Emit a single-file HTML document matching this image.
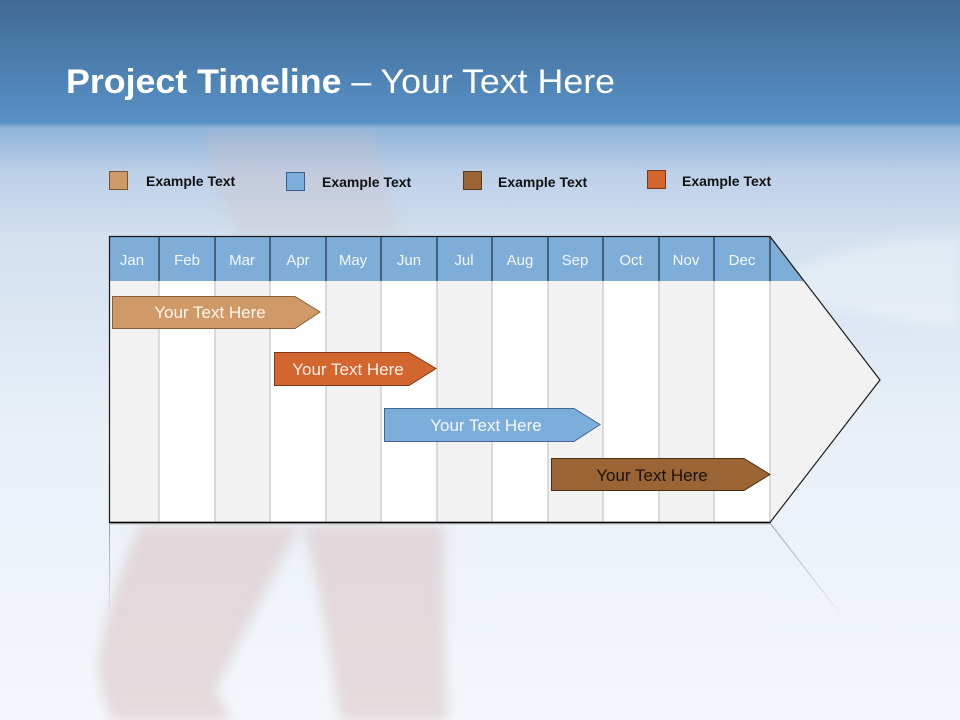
<!DOCTYPE html>
<html><head><meta charset="utf-8"><style>
html,body{margin:0;padding:0;width:960px;height:720px;overflow:hidden}
svg{display:block}
</style></head><body>
<svg width="960" height="720" viewBox="0 0 960 720" xmlns="http://www.w3.org/2000/svg" font-family="'Liberation Sans', sans-serif">
<defs>
<linearGradient id="bg" x1="0" y1="0" x2="0" y2="1">
<stop offset="0" stop-color="#3f6a93"/>
<stop offset="0.17" stop-color="#5891c6"/>
<stop offset="0.178" stop-color="#8fb5dc"/>
<stop offset="0.24" stop-color="#bcd0e8"/>
<stop offset="0.33" stop-color="#d3e0ef"/>
<stop offset="0.6" stop-color="#e9f0f8"/>
<stop offset="1" stop-color="#f4f7fb"/>
</linearGradient>
<linearGradient id="refl" x1="0" y1="0" x2="0" y2="1">
<stop offset="0" stop-color="#888" stop-opacity="0.8"/>
<stop offset="1" stop-color="#888" stop-opacity="0"/>
</linearGradient>
<filter id="blur"><feGaussianBlur stdDeviation="6"/></filter>
</defs>
<rect width="960" height="720" fill="url(#bg)"/>
<path d="M790 270 Q860 240 960 235 L960 330 Q880 320 800 300 Z" fill="#f3f6fa" opacity="0.45" filter="url(#blur)"/>
<g fill="#d6bcbc" opacity="0.5" filter="url(#blur)">
<path d="M205 132 L375 132 Q390 200 400 236 L240 236 Q215 190 205 132 Z" opacity="0.5"/>
<path d="M140 525 L300 525 Q260 600 215 690 L232 720 L112 720 Q96 680 100 655 Q108 600 140 525 Z"/>
<path d="M303 525 L445 525 Q442 620 448 720 L340 720 Q332 660 328 640 Q318 580 303 525 Z"/>
</g>
<text x="66" y="93" fill="#fff" font-size="34" textLength="549" lengthAdjust="spacingAndGlyphs"><tspan font-weight="bold">Project Timeline</tspan> – Your Text Here</text>
<g font-size="14" font-weight="bold" fill="#111">
<rect x="109.5" y="171.5" width="18" height="18" fill="#cf9a67" stroke="#7a5430"/>
<text x="146" y="186">Example Text</text>
<rect x="286.5" y="172.5" width="18" height="18" fill="#7caedb" stroke="#3a5f88"/>
<text x="322" y="187">Example Text</text>
<rect x="463.5" y="171.5" width="18" height="18" fill="#9a6434" stroke="#5a3a1c"/>
<text x="498" y="187">Example Text</text>
<rect x="647.5" y="170.5" width="18" height="18" fill="#d3652f" stroke="#7a3818"/>
<text x="682" y="186">Example Text</text>
</g>
<path d="M109.5 523 L109.5 620 M770 523 L845 620" stroke="url(#refl)" stroke-width="1" fill="none"/>
<rect x="109" y="523" width="661" height="2" fill="#bbb" opacity="0.5"/>
<path d="M109.5 236.5 L770 236.5 L880 380 L770 522.5 L109.5 522.5 Z" fill="#f2f2f2"/>
<g fill="#fff">
<rect x="159" y="281" width="56" height="241"/>
<rect x="270" y="281" width="56" height="241"/>
<rect x="381" y="281" width="56" height="241"/>
<rect x="492" y="281" width="56" height="241"/>
<rect x="603" y="281" width="56" height="241"/>
<rect x="714" y="281" width="56" height="241"/>
</g>
<g stroke="#cfcfcf" stroke-width="1.5">
<path d="M159 281V522M215 281V522M270 281V522M326 281V522M381 281V522M437 281V522M492 281V522M548 281V522M603 281V522M659 281V522M714 281V522M770 281V522"/>
</g>
<path d="M109.5 236.5 L770 236.5 L804.5 281 L109.5 281 Z" fill="#7eadd8"/>
<g stroke="#2a3a4a" stroke-width="1.3">
<path d="M159 236V281M215 236V281M270 236V281M326 236V281M381 236V281M437 236V281M492 236V281M548 236V281M603 236V281M659 236V281M714 236V281M770 236V281"/>
</g>
<path d="M109.5 236.5 L770 236.5 L880 380 L770 522.5 L109.5 522.5 Z" fill="none" stroke="#1a1a1a" stroke-width="1.2"/>
<path d="M109.5 522.5 L770 522.5" stroke="#000" stroke-width="1.6"/>
<g font-size="15" fill="#f4f8fc" text-anchor="middle">
<text x="132" y="265">Jan</text><text x="187" y="265">Feb</text><text x="242" y="265">Mar</text>
<text x="298" y="265">Apr</text><text x="353" y="265">May</text><text x="409" y="265">Jun</text>
<text x="464" y="265">Jul</text><text x="520" y="265">Aug</text><text x="575" y="265">Sep</text>
<text x="631" y="265">Oct</text><text x="686" y="265">Nov</text><text x="742" y="265">Dec</text>
</g>
<g font-size="17" text-anchor="middle">
<path d="M112.5 296.5 L295 296.5 L320 312 L295 328.5 L112.5 328.5 Z" fill="#cf9a67" stroke="#8a5f38"/>
<text x="210" y="318" fill="#fdf6ee">Your  Text Here</text>
<path d="M274.5 352.5 L409 352.5 L436 368.5 L409 385.5 L274.5 385.5 Z" fill="#d3652f" stroke="#7a3818"/>
<text x="348" y="375" fill="#fdf0e8">Your  Text Here</text>
<path d="M384.5 408.5 L574 408.5 L600 424.5 L574 441.5 L384.5 441.5 Z" fill="#7caedb" stroke="#40678f"/>
<text x="486" y="431" fill="#f4f8fc">Your  Text Here</text>
<path d="M551.5 458.5 L744 458.5 L770 474.5 L744 490.5 L551.5 490.5 Z" fill="#9a6434" stroke="#4a2e14"/>
<text x="652" y="481" fill="#1a1208">Your  Text Here</text>
</g>
</svg>
</body></html>
